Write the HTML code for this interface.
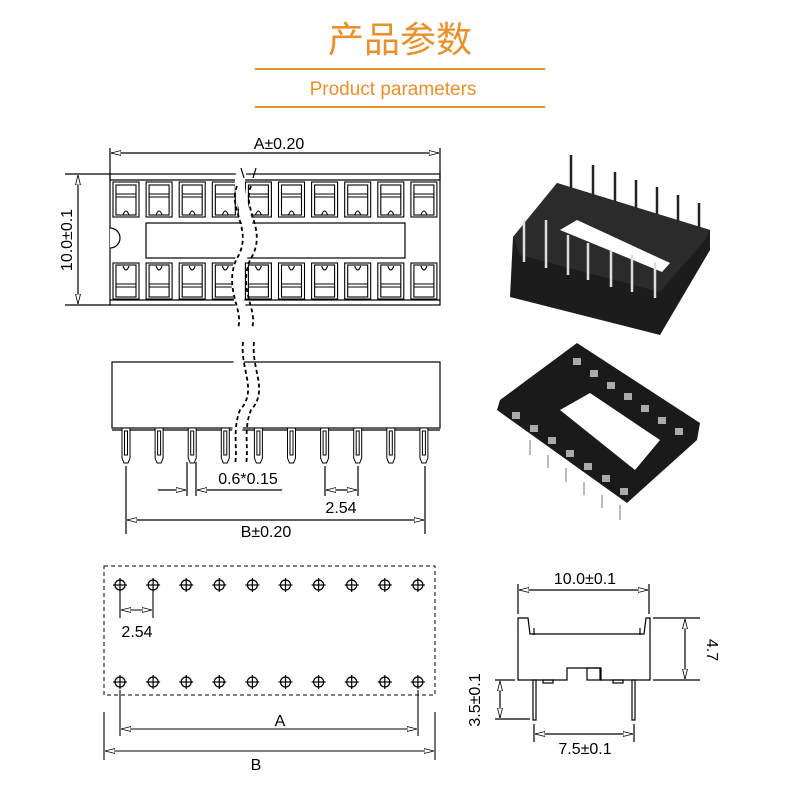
<!DOCTYPE html>
<html><head><meta charset="utf-8"><style>
body{margin:0;background:#fff;width:800px;height:800px;overflow:hidden}
svg text{font-family:"Liberation Sans","Noto Sans CJK SC",sans-serif}
</style></head><body>
<svg width="800" height="800" viewBox="0 0 800 800" xmlns="http://www.w3.org/2000/svg">
<defs>
<marker id="ar" viewBox="0 0 10 6" refX="10" refY="3" markerWidth="10" markerHeight="6" orient="auto-start-reverse" markerUnits="userSpaceOnUse"><path d="M0,0.5 L10,3 L0,5.5 Z" fill="#fff" stroke="#000" stroke-width="0.8"/></marker>
</defs>
<!-- header -->
<text x="400" y="52" font-size="36" fill="#e8902c" text-anchor="middle" font-family="Noto Sans CJK SC, sans-serif">产品参数</text>
<line x1="255" y1="69" x2="545" y2="69" stroke="#e8902c" stroke-width="2"/>
<text x="393" y="95" font-size="19" fill="#e8902c" text-anchor="middle">Product parameters</text>
<line x1="255" y1="107" x2="545" y2="107" stroke="#e8902c" stroke-width="2"/>

<g stroke="#000" fill="none" stroke-width="1.2">
<!-- top view -->
<line x1="110" y1="148" x2="110" y2="180"/><line x1="440" y1="148" x2="440" y2="180"/>
<line x1="111" y1="153" x2="439" y2="153" marker-start="url(#ar)" marker-end="url(#ar)"/>
<rect x="110" y="174" width="330" height="131"/>
<line x1="110" y1="180" x2="440" y2="180"/><line x1="110" y1="300" x2="440" y2="300"/>
<path d="M110,228 A8,8 0 0 1 110,248" fill="#fff"/>
<rect x="146" y="223" width="259" height="35"/>
<line x1="65" y1="174" x2="110" y2="174"/><line x1="65" y1="305" x2="110" y2="305"/>
<line x1="78" y1="175" x2="78" y2="304" marker-start="url(#ar)" marker-end="url(#ar)"/>
</g>
<g stroke="#000" fill="none" stroke-width="1.1" id="cells"></g>
<text x="279" y="149" font-size="16" text-anchor="middle">A±0.20</text>
<text x="0" y="0" font-size="16" text-anchor="middle" transform="translate(72,240) rotate(-90)">10.0±0.1</text>

<!-- side view -->
<g stroke="#000" fill="none" stroke-width="1.2">
<rect x="112" y="362" width="328" height="66"/>
<line x1="112" y1="430" x2="440" y2="430"/>
<line x1="126" y1="466" x2="126" y2="534"/><line x1="425" y1="466" x2="425" y2="534"/>
<line x1="127" y1="520" x2="424" y2="520" marker-start="url(#ar)" marker-end="url(#ar)"/>
<line x1="187" y1="462" x2="187" y2="496"/><line x1="196" y1="462" x2="196" y2="496"/>
<line x1="158" y1="490" x2="186" y2="490" marker-end="url(#ar)"/>
<line x1="282" y1="490" x2="197" y2="490" marker-end="url(#ar)"/>
<line x1="325" y1="466" x2="325" y2="496"/><line x1="358" y1="466" x2="358" y2="496"/>
<line x1="326" y1="490" x2="357" y2="490" marker-start="url(#ar)" marker-end="url(#ar)"/>
</g>
<g id="pins" stroke="#000" fill="#fff" stroke-width="1"></g>
<text x="248" y="484" font-size="16" text-anchor="middle">0.6*0.15</text>
<text x="341" y="513" font-size="16" text-anchor="middle">2.54</text>
<text x="266" y="537" font-size="16" text-anchor="middle">B±0.20</text>

<!-- break lines -->
<g stroke="#fff" stroke-width="10" fill="none">
<path d="M242,170 C232,200 262,230 240,260 C228,290 250,320 245,340"/>
<path d="M240,355 C232,380 258,400 240,420 C232,440 240,460 240,470"/>
</g>
<g stroke="#000" stroke-width="1.8" fill="none" stroke-dasharray="4,3">
<path d="M237,186 C227,210 255,230 236,260 C224,290 244,310 238,328"/>
<path d="M251,186 C241,210 269,230 250,260 C238,290 258,310 252,328"/>
<path d="M243,342 C240,370 258,390 240,410 C232,430 238,450 235,464"/>
<path d="M254,342 C251,370 269,390 251,410 C243,430 249,450 246,464"/>
</g>
<g stroke="#000" stroke-width="1.2"><line x1="241" y1="168" x2="244" y2="178"/><line x1="256" y1="168" x2="253" y2="178"/></g>

<!-- bottom-left footprint -->
<rect x="104" y="566" width="331" height="129" fill="none" stroke="#000" stroke-width="1" stroke-dasharray="4,3"/>
<g id="holes" stroke="#000" fill="none" stroke-width="1.2"></g>
<g stroke="#000" fill="none" stroke-width="1.1">
<line x1="120" y1="592" x2="120" y2="618"/><line x1="153" y1="592" x2="153" y2="618"/>
<line x1="121" y1="610" x2="152" y2="610" marker-start="url(#ar)" marker-end="url(#ar)"/>
<line x1="120" y1="690" x2="120" y2="736"/><line x1="418" y1="690" x2="418" y2="736"/>
<line x1="121" y1="729" x2="417" y2="729" marker-start="url(#ar)" marker-end="url(#ar)"/>
<line x1="104" y1="712" x2="104" y2="760"/><line x1="435" y1="712" x2="435" y2="760"/>
<line x1="105" y1="751" x2="434" y2="751" marker-start="url(#ar)" marker-end="url(#ar)"/>
</g>
<text x="137" y="637" font-size="16" text-anchor="middle">2.54</text>
<text x="280" y="726" font-size="16" text-anchor="middle">A</text>
<text x="256" y="770" font-size="16" text-anchor="middle">B</text>

<!-- bottom-right end view -->
<g stroke="#000" fill="none" stroke-width="1.2">
<line x1="518" y1="584" x2="518" y2="614"/><line x1="649" y1="584" x2="649" y2="614"/>
<line x1="519" y1="590" x2="648" y2="590" marker-start="url(#ar)" marker-end="url(#ar)"/>
<path d="M518,618 L528,618 L530,634 L644,634 L646,618 L650,618 L650,680 L600,680 L600,668 L567,668 L567,680 L518,680 Z"/>
<rect x="587" y="668" width="14" height="12"/>
<line x1="534" y1="628" x2="534" y2="635"/><line x1="640" y1="628" x2="640" y2="635"/>
<line x1="653" y1="618" x2="700" y2="618"/><line x1="653" y1="680" x2="700" y2="680"/>
<line x1="685" y1="619" x2="685" y2="679" marker-start="url(#ar)" marker-end="url(#ar)"/>
<rect x="533" y="680" width="3" height="40" fill="#fff"/><rect x="632" y="680" width="3" height="40" fill="#fff"/>
<rect x="543" y="680" width="10" height="3"/><rect x="613" y="680" width="10" height="3"/>
<line x1="495" y1="680" x2="515" y2="680"/><line x1="495" y1="719" x2="530" y2="719"/>
<line x1="500" y1="681" x2="500" y2="718" marker-start="url(#ar)" marker-end="url(#ar)"/>
<line x1="534" y1="724" x2="534" y2="742"/><line x1="634" y1="724" x2="634" y2="742"/>
<line x1="535" y1="734" x2="633" y2="734" marker-start="url(#ar)" marker-end="url(#ar)"/>
</g>
<text x="585" y="584" font-size="16" text-anchor="middle">10.0±0.1</text>
<text x="0" y="0" font-size="16" text-anchor="middle" transform="translate(707,650) rotate(90)">4.7</text>
<text x="0" y="0" font-size="16" text-anchor="middle" transform="translate(480,700) rotate(-90)">3.5±0.1</text>
<text x="585" y="754" font-size="16" text-anchor="middle">7.5±0.1</text>

<!-- photo 1 -->
<g>
<g stroke="#222" stroke-width="2.5"><line x1="571" y1="155" x2="571" y2="195"/><line x1="593" y1="165" x2="593" y2="200"/><line x1="615" y1="172" x2="615" y2="205"/><line x1="636" y1="180" x2="636" y2="212"/><line x1="657" y1="187" x2="657" y2="220"/><line x1="678" y1="195" x2="678" y2="228"/><line x1="699" y1="203" x2="699" y2="236"/></g>
<polygon points="513,237 557,183 710,230 710,250 660,335 510,297" fill="#1c1c1c"/>
<polygon points="513,237 557,183 710,230 705,240 660,292 520,255" fill="#2b2b2b"/>
<polygon points="560,230 577,220 670,263 662,272" fill="#fff"/>
<g stroke="#ddd" stroke-width="2.5"><line x1="524" y1="220" x2="524" y2="262"/><line x1="546" y1="220" x2="546" y2="268"/><line x1="568" y1="235" x2="568" y2="275"/><line x1="588" y1="243" x2="588" y2="280"/><line x1="611" y1="250" x2="611" y2="287"/><line x1="632" y1="255" x2="632" y2="292"/><line x1="655" y1="262" x2="655" y2="298"/></g>
</g>
<!-- photo 2 -->
<g>
<polygon points="500,400 577,343 700,423 697,440 627,503 497,410" fill="#1a1a1a"/>
<polygon points="560,410 590,393 660,440 635,470" fill="#fff"/>
<g fill="#aaa"><rect x="512" y="412" width="8" height="7"/><rect x="530" y="425" width="8" height="7"/><rect x="548" y="437" width="8" height="7"/><rect x="566" y="450" width="8" height="7"/><rect x="584" y="463" width="8" height="7"/><rect x="602" y="475" width="8" height="7"/><rect x="620" y="488" width="8" height="7"/>
<rect x="573" y="358" width="8" height="7"/><rect x="590" y="370" width="8" height="7"/><rect x="607" y="382" width="8" height="7"/><rect x="624" y="393" width="8" height="7"/><rect x="641" y="405" width="8" height="7"/><rect x="658" y="417" width="8" height="7"/><rect x="675" y="428" width="8" height="7"/></g>
<g stroke="#bbb" stroke-width="2"><line x1="530" y1="440" x2="530" y2="455"/><line x1="548" y1="455" x2="548" y2="468"/><line x1="566" y1="468" x2="566" y2="482"/><line x1="584" y1="482" x2="584" y2="495"/><line x1="602" y1="495" x2="602" y2="508"/><line x1="620" y1="505" x2="620" y2="520"/></g>
</g>
</svg>
<script>
var ns="http://www.w3.org/2000/svg";
function el(p,t,a){var e=document.createElementNS(ns,t);for(var k in a)e.setAttribute(k,a[k]);p.appendChild(e);return e;}
var c=document.getElementById("cells"),pn=document.getElementById("pins"),h=document.getElementById("holes");
for(var i=0;i<10;i++){var x=113+i*33.1;
 el(c,"rect",{x:x,y:182,width:26,height:35});el(c,"rect",{x:x+3,y:185,width:20,height:30});
 el(c,"line",{x1:x+3,y1:194,x2:x+23,y2:194});el(c,"line",{x1:x+3,y1:197,x2:x+23,y2:197});
 el(c,"path",{d:"M"+(x+10)+",215 q3,-8 6,0"});
 el(c,"rect",{x:x,y:263,width:26,height:36});el(c,"rect",{x:x+3,y:265,width:20,height:32});
 el(c,"line",{x1:x+3,y1:284,x2:x+23,y2:284});el(c,"line",{x1:x+3,y1:287,x2:x+23,y2:287});
 el(c,"path",{d:"M"+(x+10)+",266 q3,8 6,0"});
 var px=126+i*33.1;
 el(pn,"path",{d:"M"+(px-4)+",428 L"+(px+4)+",428 L"+(px+4)+",458 L"+(px+2)+",463 L"+(px-2)+",463 L"+(px-4)+",458 Z"});
 el(pn,"rect",{x:px-1.5,y:431,width:3,height:24,fill:"none"});
 var hx=120+i*33.1;
 [585,682].forEach(function(y){el(h,"circle",{cx:hx,cy:y,r:5});el(h,"line",{x1:hx-7,y1:y,x2:hx+7,y2:y});el(h,"line",{x1:hx,y1:y-7,x2:hx,y2:y+7});});
}
</script>
</body></html>
